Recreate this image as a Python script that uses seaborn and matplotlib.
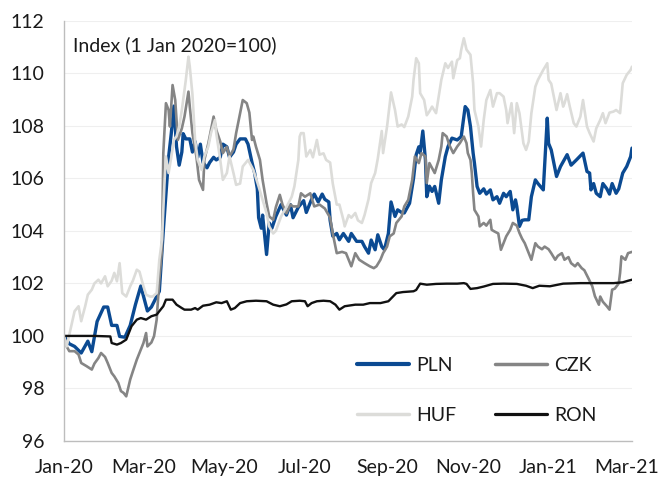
import matplotlib
matplotlib.use("Agg")
import matplotlib.pyplot as plt
import matplotlib.dates as mdates
from matplotlib.lines import Line2D
import numpy as np
import pandas as pd
import seaborn as sns

# Currency indices vs EUR, 1 Jan 2020 = 100 (day offsets counted from 1 Jan 2020)
base_date = pd.Timestamp("2020-01-01")

pln_day = [0, 4, 8, 13, 18, 21, 25, 30, 33, 36, 40, 42, 46, 50, 54, 58, 63, 66, 70, 72,
           75, 79, 81, 83, 85, 87, 89, 90, 92, 95, 97, 99, 101, 103, 105, 108, 110, 113,
           115, 118, 120, 123, 125, 128, 130, 133, 137, 139, 142, 144, 146, 147, 149, 150,
           153, 155, 157, 160, 164, 168, 171, 173, 177, 181, 183, 187, 189, 192, 195, 197,
           200, 201, 203, 206, 208, 211, 215, 217, 221, 225, 227, 230, 232, 235, 237, 240,
           242, 245, 247, 250, 252, 255, 257, 261, 264, 266, 268, 269, 271, 273, 274, 276,
           278, 280, 283, 285, 288, 290, 293, 297, 300, 303, 305, 307, 309, 310, 312, 314,
           317, 319, 322, 324, 327, 329, 332, 334, 337, 339, 341, 342, 344, 346, 348, 351,
           353, 356, 358, 362, 365, 366, 368, 372, 375, 380, 383, 387, 392, 395, 397, 398,
           400, 402, 405, 407, 410, 412, 414, 417, 419, 422, 425, 428, 429]
pln_val = [100.0, 99.7, 99.6, 99.35, 99.8, 99.4, 100.55, 101.1, 101.1, 100.4, 100.4, 99.98,
           99.95, 100.4, 101.2, 101.9, 100.95, 101.1, 101.5, 101.7, 104.0, 106.8, 107.7,
           108.75, 107.2, 106.5, 107.0, 107.7, 107.5, 107.5, 107.0, 107.4, 106.8, 107.3,
           106.6, 106.4, 106.6, 106.8, 106.7, 106.8, 107.3, 107.2, 106.8, 107.0, 107.3,
           107.5, 107.5, 107.3, 106.6, 106.2, 105.6, 104.5, 104.1, 104.6, 103.1, 104.3,
           104.1, 104.55, 105.0, 104.6, 105.0, 104.5, 104.9, 105.15, 104.7, 105.2, 105.4,
           105.1, 105.4, 105.2, 105.1, 104.4, 103.8, 103.9, 103.66, 103.9, 103.6, 103.9,
           103.6, 103.6, 103.4, 103.15, 103.65, 103.28, 103.85, 103.4, 103.28, 103.9, 105.1,
           104.55, 104.8, 104.7, 104.68, 105.05, 106.0, 106.9, 107.2, 106.96, 107.8, 106.7,
           105.3, 105.7, 105.5, 105.69, 105.05, 105.94, 106.83, 107.2, 107.53, 107.46,
           107.59, 108.73, 108.6, 107.97, 106.96, 106.58, 105.69, 105.43, 105.6, 105.4,
           105.56, 105.18, 105.3, 105.05, 105.43, 105.3, 105.5, 104.8, 105.18, 104.93,
           104.17, 104.4, 104.42, 104.42, 105.3, 105.94, 105.8, 105.56, 108.29, 107.33,
           107.08, 106.07, 106.45, 106.9, 106.5, 106.7, 106.96, 106.26, 106.2, 105.56, 105.8,
           105.43, 105.3, 105.8, 105.6, 105.4, 105.8, 105.43, 105.6, 106.2, 106.45, 106.83,
           107.15]

czk_day = [0, 2, 4, 8, 11, 13, 17, 21, 23, 26, 28, 31, 33, 36, 38, 41, 43, 45, 47, 50, 52,
           55, 57, 60, 62, 63, 66, 68, 70, 72, 74, 75, 77, 79, 80, 82, 84, 86, 89, 91, 94,
           95, 97, 100, 102, 105, 106, 109, 113, 115, 118, 120, 123, 125, 128, 130, 133,
           135, 138, 140, 142, 143, 145, 148, 150, 153, 155, 158, 160, 163, 165, 168, 171,
           173, 177, 179, 182, 186, 189, 193, 197, 201, 203, 206, 210, 213, 217, 220, 223,
           227, 231, 234, 236, 239, 241, 244, 246, 249, 251, 255, 257, 260, 263, 265, 268,
           270, 273, 274, 276, 280, 283, 285, 286, 289, 291, 294, 297, 299, 302, 304, 305,
           307, 308, 309, 310, 313, 314, 317, 319, 322, 323, 325, 328, 330, 332, 334, 337,
           339, 342, 344, 346, 348, 351, 353, 356, 358, 361, 363, 366, 368, 371, 373, 376,
           378, 381, 383, 386, 388, 391, 393, 396, 399, 401, 404, 405, 407, 410, 412, 414,
           416, 419, 420, 421, 424, 426, 429]
czk_val = [100.0, 99.6, 99.42, 99.42, 99.29, 98.97, 98.85, 98.72, 98.95, 99.16, 99.35, 99.2,
           98.97, 98.59, 98.46, 98.21, 97.9, 97.83, 97.7, 98.34, 98.65, 99.1, 99.35, 99.73,
           100.11, 99.6, 99.75, 99.99, 100.62, 102.14, 103.28, 106.96, 108.86, 108.6,
           107.97, 109.55, 108.98, 107.46, 107.9, 108.35, 109.3, 108.73, 107.72, 106.83,
           105.94, 105.56, 106.7, 107.33, 108.35, 107.84, 107.4, 106.96, 107.2, 106.83,
           107.1, 107.72, 108.48, 108.98, 108.86, 108.5, 107.46, 107.59, 107.2, 106.7,
           105.94, 105.05, 104.55, 104.42, 104.9, 105.37, 105.0, 104.67, 105.0, 104.93,
           104.93, 105.43, 105.3, 105.43, 104.93, 105.0, 104.85, 104.5, 103.9, 103.15, 103.2,
           103.15, 102.65, 103.15, 102.9, 102.77, 102.65, 102.58, 102.65, 102.9, 103.15,
           103.4, 103.79, 103.9, 104.3, 104.55, 104.93, 105.18, 105.94, 106.83, 106.58,
           106.96, 106.83, 105.82, 106.58, 106.2, 106.7, 107.21, 107.72, 107.59, 107.27,
           106.96, 107.21, 107.34, 107.59, 107.34, 106.96, 106.7, 106.2, 105.44, 104.8,
           104.55, 104.17, 104.3, 104.2, 104.42, 104.04, 103.98, 103.9, 103.28, 103.53,
           103.79, 104.04, 104.3, 104.2, 103.92, 103.7, 103.53, 103.15, 102.9, 103.53, 103.4,
           103.3, 103.4, 103.3, 103.15, 102.9, 103.05, 103.15, 102.9, 103.0, 102.77, 102.65,
           102.77, 102.58, 102.5, 102.2, 101.89, 101.51, 101.19, 101.5, 101.3, 101.13, 101.0,
           101.76, 101.8, 102.0, 102.4, 103.03, 102.9, 103.15, 103.2]

huf_day = [0, 2, 6, 8, 11, 13, 16, 18, 21, 23, 26, 28, 31, 33, 36, 38, 40, 42, 44, 47, 50,
           52, 55, 57, 60, 62, 65, 67, 70, 72, 74, 76, 77, 79, 81, 83, 85, 87, 89, 90, 92,
           94, 95, 97, 99, 101, 104, 106, 109, 111, 114, 115, 118, 120, 123, 125, 128, 130,
           133, 135, 139, 143, 147, 150, 153, 155, 158, 160, 164, 168, 172, 174, 177, 178,
           179, 181, 183, 186, 188, 191, 193, 196, 198, 201, 203, 206, 208, 211, 212, 215,
           217, 220, 222, 225, 227, 230, 232, 235, 237, 240, 241, 244, 246, 247, 250, 252,
           255, 257, 260, 263, 264, 266, 268, 269, 272, 274, 276, 278, 281, 285, 288, 290,
           293, 294, 297, 299, 300, 302, 304, 307, 309, 310, 313, 315, 317, 319, 322, 324,
           327, 329, 332, 334, 335, 338, 340, 342, 344, 347, 349, 351, 353, 356, 358, 362,
           365, 366, 368, 370, 372, 375, 377, 378, 380, 382, 385, 387, 390, 392, 395, 397,
           400, 402, 405, 407, 409, 412, 415, 417, 420, 422, 425, 428, 429]
huf_val = [100.0, 99.6, 100.5, 100.94, 101.13, 100.56, 101.13, 101.57, 101.76, 102.0, 102.14,
           102.0, 102.27, 101.89, 102.1, 102.4, 102.08, 102.77, 101.63, 101.5, 101.89, 102.1,
           102.52, 102.45, 101.89, 101.57, 101.5, 101.5, 101.63, 102.9, 103.66, 105.94,
           106.83, 106.2, 106.8, 107.46, 107.6, 107.97, 108.6, 108.98, 109.74, 110.63,
           110.25, 109.2, 107.46, 106.7, 106.32, 106.83, 107.21, 107.72, 108.22, 107.72,
           106.7, 105.94, 106.2, 106.83, 106.2, 105.75, 105.8, 106.45, 106.7, 106.32, 105.69,
           105.18, 104.67, 104.17, 103.9, 104.0, 104.55, 104.9, 105.3, 105.69, 106.7, 107.59,
           107.72, 107.72, 106.83, 107.08, 106.8, 107.46, 106.9, 106.95, 106.7, 106.6, 105.8,
           105.0, 105.0, 104.42, 104.17, 104.6, 104.5, 104.68, 104.4, 104.3, 104.6, 105.2,
           105.82, 106.2, 106.75, 107.8, 106.96, 107.97, 108.86, 109.27, 108.6, 107.97,
           108.05, 107.95, 108.35, 109.11, 109.75, 110.57, 110.38, 109.24, 108.98, 108.4,
           108.55, 108.73, 108.48, 109.75, 110.38, 110.2, 110.44, 109.81, 110.5, 110.57,
           110.89, 111.33, 110.9, 110.7, 109.62, 108.6, 107.97, 107.21, 108.22, 108.98,
           109.36, 108.73, 109.24, 109.24, 109.11, 108.6, 108.1, 108.86, 107.72, 108.86,
           108.48, 107.33, 107.08, 107.4, 108.48, 109.49, 109.75, 110.13, 110.38, 109.75,
           109.6, 109.11, 108.6, 109.24, 108.73, 108.85, 109.2, 108.73, 108.1, 107.97, 108.35,
           108.98, 107.97, 107.72, 107.4, 107.9, 108.22, 108.48, 108.1, 108.5, 108.54, 108.6,
           108.48, 109.62, 109.94, 110.13, 110.25]

ron_day = [0, 12, 23, 35, 36, 40, 43, 47, 51, 55, 58, 62, 66, 70, 72, 75, 77, 82, 85, 89, 91,
           96, 99, 101, 105, 110, 115, 119, 123, 126, 129, 133, 138, 145, 153, 158, 163, 168,
           172, 178, 182, 184, 187, 191, 196, 201, 205, 208, 212, 220, 226, 231, 239, 245,
           251, 256, 264, 266, 269, 274, 281, 289, 297, 302, 304, 307, 312, 317, 324, 332,
           342, 349, 354, 359, 367, 377, 390, 402, 415, 422, 426, 429]
ron_val = [100.0, 100.0, 100.0, 99.98, 99.73, 99.67, 99.73, 99.86, 100.37, 100.62, 100.68,
           100.62, 100.75, 100.81, 100.94, 101.13, 101.38, 101.38, 101.19, 101.06, 101.0,
           101.0, 101.06, 101.0, 101.15, 101.19, 101.28, 101.25, 101.32, 101.0, 101.06,
           101.25, 101.32, 101.34, 101.32, 101.19, 101.13, 101.2, 101.32, 101.34, 101.32,
           101.13, 101.25, 101.32, 101.34, 101.32, 101.19, 101.0, 101.13, 101.19, 101.19,
           101.25, 101.25, 101.32, 101.63, 101.67, 101.7, 101.75, 101.99, 101.95, 101.98,
           101.99, 101.99, 102.01, 101.98, 101.79, 101.82, 101.88, 101.98, 101.99, 101.98,
           101.91, 101.82, 101.91, 101.89, 101.99, 102.01, 102.01, 102.01, 102.04, 102.1,
           102.14]

series = [
    ("PLN", pln_day, pln_val, "#0b4a92", 2.4),
    ("CZK", czk_day, czk_val, "#858585", 1.9),
    ("HUF", huf_day, huf_val, "#dcdcd9", 1.9),
    ("RON", ron_day, ron_val, "#111111", 1.7),
]

sns.set_style("white")
plt.rcParams["font.family"] = ["Lato", "DejaVu Sans"]

fig = plt.figure(figsize=(6.61, 4.80), dpi=100)
ax = fig.add_axes([64 / 661, 1 - 441 / 480, 568 / 661, 420.3 / 480])

handles = {}
for name, days, vals, color, lw in series:
    df = pd.DataFrame({"date": base_date + pd.to_timedelta(days, unit="D"), "value": vals})
    sns.lineplot(data=df, x="date", y="value", ax=ax, color=color, linewidth=lw,
                 estimator=None, sort=False)
    handles[name] = Line2D([], [], color=color, linewidth=lw + 0.6)

ax.set_ylim(96, 112)
ax.set_yticks(np.arange(96, 113, 2))
ax.set_xlim(base_date, base_date + pd.Timedelta(days=429))
ax.xaxis.set_major_locator(mdates.MonthLocator(bymonth=[1, 3, 5, 7, 9, 11]))
ax.xaxis.set_major_formatter(mdates.DateFormatter("%b-%y"))
ax.set_xlabel("")
ax.set_ylabel("")

ax.grid(axis="y", color="#efefef", linewidth=0.8)
ax.grid(axis="x", visible=False)
ax.set_axisbelow(True)
for side in ("top", "right"):
    ax.spines[side].set_visible(False)
for side in ("left", "bottom"):
    ax.spines[side].set_color("#bdbdbd")
    ax.spines[side].set_linewidth(1.0)

ax.tick_params(axis="both", which="major", direction="out", length=5, width=1.0,
               color="#bdbdbd", labelsize=14, labelcolor="#1a1a1a")
ax.tick_params(axis="y", pad=9)
ax.tick_params(axis="x", pad=8)

ax.text(0.015, 0.942, "Index (1 Jan 2020=100)", transform=ax.transAxes,
        fontsize=14, color="#1a1a1a", ha="left", va="center")

order = ["PLN", "HUF", "CZK", "RON"]
ax.legend([handles[k] for k in order], order, ncol=2, frameon=False,
          loc="upper left", bbox_to_anchor=(0.515, 0.200), borderaxespad=0, borderpad=0,
          fontsize=14, handlelength=2.7, handletextpad=0.35, columnspacing=2.0,
          labelspacing=1.7, labelcolor="#1a1a1a")

fig.savefig("out.png", dpi=100)
